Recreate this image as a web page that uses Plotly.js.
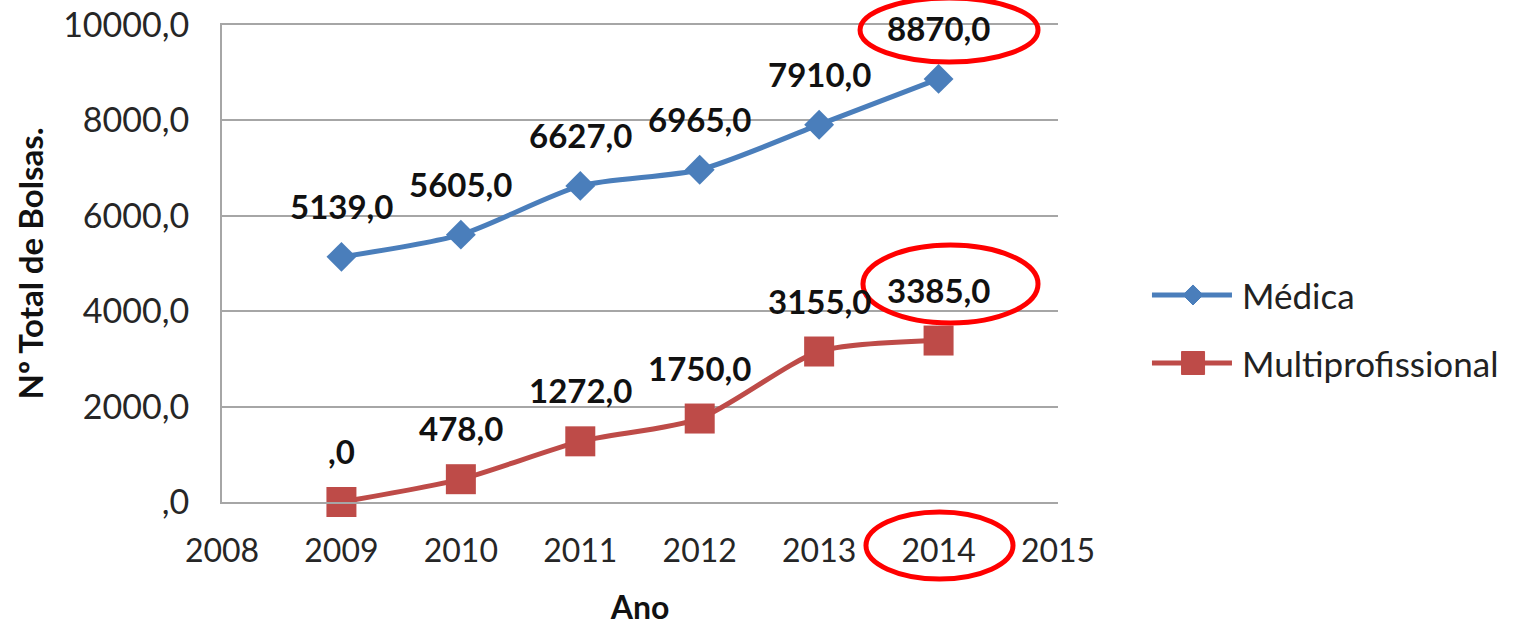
<!DOCTYPE html>
<html>
<head>
<meta charset="utf-8">
<script src="https://cdn.plot.ly/plotly-3.0.1.min.js"></script>
<style>html,body{margin:0;padding:0;background:#fff;}</style>
</head>
<body>
<div id="chart" style="width:1515px;height:626px;"></div>
<script>
// ---- data ----
const years = [2009, 2010, 2011, 2012, 2013, 2014];
const medica = [5139, 5605, 6627, 6965, 7910, 8870];
const multiprofissional = [0, 478, 1272, 1750, 3155, 3385];
const seriesNames = ['Médica', 'Multiprofissional'];
const xTickVals = [2008, 2009, 2010, 2011, 2012, 2013, 2014, 2015];
const yTickVals = [0, 2000, 4000, 6000, 8000, 10000];

function fmt(v) {
  if (v === 0) return ',0';
  return v.toFixed(1).replace('.', ',');
}

const BLUE = '#4A7EBB';
const RED = '#BE4B48';
const GRID = '#A6A6A6';
const FONT = 'Lato, "Open Sans", sans-serif';

const traces = [
  {
    x: years, y: medica, name: seriesNames[0], type: 'scatter', mode: 'lines+markers',
    line: {color: BLUE, width: 5, shape: 'spline', smoothing: 0.7},
    marker: {symbol: 'diamond', size: 23, color: BLUE},
    showlegend: false, cliponaxis: false, hoverinfo: 'x+y'
  },
  {
    x: years, y: multiprofissional, name: seriesNames[1], type: 'scatter', mode: 'lines+markers',
    line: {color: RED, width: 5, shape: 'spline', smoothing: 0.7},
    marker: {symbol: 'square', size: 30, color: RED},
    showlegend: false, cliponaxis: false, hoverinfo: 'x+y'
  }
];

// data labels
const annotations = [];
[medica, multiprofissional].forEach(function (vals) {
  years.forEach(function (yr, i) {
    annotations.push({
      x: yr, y: vals[i], xref: 'x', yref: 'y', text: fmt(vals[i]), showarrow: false,
      yshift: 51, font: {family: FONT, size: 33, color: '#111', weight: 'bold'},
      xanchor: 'center', yanchor: 'middle'
    });
  });
});

// manual legend text
annotations.push({x: 1.2177, y: 0.434, xref: 'paper', yref: 'paper', text: seriesNames[0],
  showarrow: false, xanchor: 'left', yanchor: 'middle', font: {family: FONT, size: 35, color: '#222'}});
annotations.push({x: 1.2177, y: 0.2914, xref: 'paper', yref: 'paper', text: seriesNames[1],
  showarrow: false, xanchor: 'left', yanchor: 'middle', font: {family: FONT, size: 35, color: '#222'}});

const shapes = [
  // legend symbols
  {type: 'line', xref: 'paper', yref: 'paper', x0: 1.1124, x1: 1.2081, y0: 0.434, y1: 0.434,
    line: {color: BLUE, width: 5}},
  {type: 'path', xref: 'paper', yref: 'paper',
    path: 'M 1.1615,0.4550 L 1.1735,0.4340 L 1.1615,0.4130 L 1.1495,0.4340 Z',
    fillcolor: BLUE, line: {color: BLUE, width: 1}},
  {type: 'line', xref: 'paper', yref: 'paper', x0: 1.1124, x1: 1.2081, y0: 0.2914, y1: 0.2914,
    line: {color: RED, width: 5}},
  {type: 'rect', xref: 'paper', yref: 'paper', x0: 1.1478, x1: 1.1753, y0: 0.2673, y1: 0.3155,
    fillcolor: RED, line: {color: RED, width: 1}},
  // red highlight ellipses
  {type: 'circle', xref: 'paper', yref: 'paper', x0: 0.7632, x1: 0.9761, y0: 0.9224, y1: 1.0566,
    line: {color: '#FF0000', width: 5}, layer: 'above'},
  {type: 'circle', xref: 'paper', yref: 'paper', x0: 0.7667, x1: 0.9761, y0: 0.3753, y1: 0.5388,
    line: {color: '#FF0000', width: 5}, layer: 'above'},
  {type: 'circle', xref: 'paper', yref: 'paper', x0: 0.7703, x1: 0.9462, y0: -0.1614, y1: -0.0210,
    line: {color: '#FF0000', width: 5}, layer: 'above'}
];

const layout = {
  width: 1515, height: 626,
  margin: {l: 222, r: 457, t: 25, b: 124, pad: 0},
  paper_bgcolor: '#fff', plot_bgcolor: '#fff',
  font: {family: FONT, color: '#262626'},
  showlegend: false,
  xaxis: {
    range: [2008, 2015], tickvals: xTickVals, ticktext: xTickVals.map(String),
    showgrid: false, zeroline: false,
    showline: true, mirror: true, linecolor: GRID, linewidth: 2,
    ticks: 'outside', ticklen: 0, ticklabelstandoff: 20,
    tickfont: {family: FONT, size: 32, color: '#262626'},
    title: {text: 'Ano', font: {family: FONT, size: 32, color: '#111', weight: 'bold'}, standoff: 30},
    fixedrange: true
  },
  yaxis: {
    range: [0, 10000], tickvals: yTickVals, ticktext: yTickVals.map(fmt),
    showgrid: true, gridcolor: GRID, gridwidth: 2,
    zeroline: false, showline: true, linecolor: GRID, linewidth: 2,
    ticks: 'outside', ticklen: 0, ticklabelstandoff: 24,
    tickfont: {family: FONT, size: 34, color: '#262626'},
    title: {text: 'Nº Total de Bolsas.', font: {family: FONT, size: 33, color: '#111', weight: 'bold'}, standoff: 10},
    fixedrange: true
  },
  annotations: annotations,
  shapes: shapes
};

Plotly.newPlot('chart', traces, layout, {displayModeBar: false, staticPlot: true});
</script>
</body>
</html>
